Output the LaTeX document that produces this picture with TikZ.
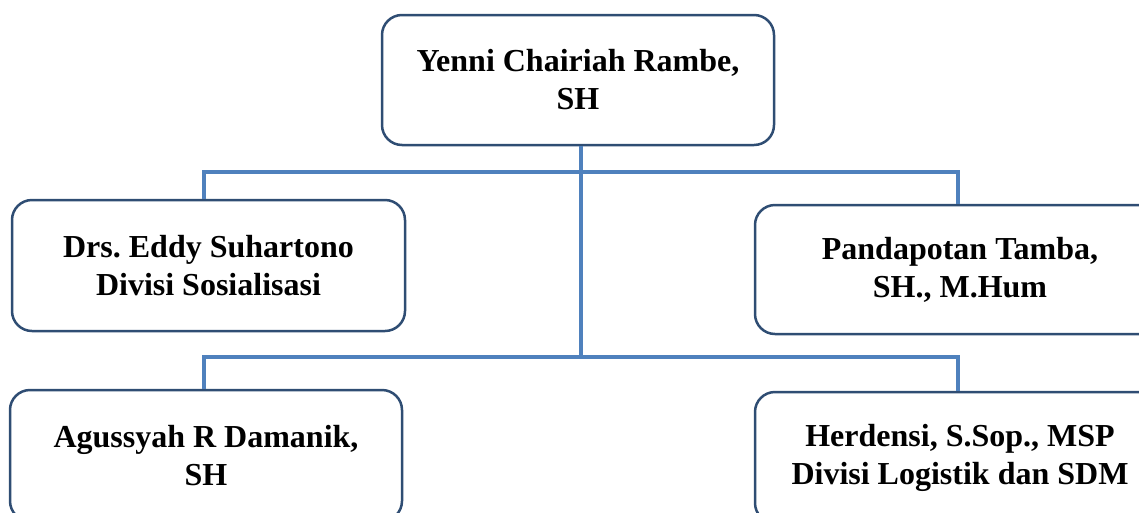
\documentclass[tikz,border=0pt]{standalone}
\usepackage{fontspec}
\setmainfont{Liberation Serif}
\frenchspacing
\definecolor{boxline}{RGB}{47,77,115}
\definecolor{conline}{RGB}{79,129,189}
\begin{document}
\begin{tikzpicture}[x=1pt,y=-1pt,
  orgbox/.style={draw=boxline, line width=2.5pt, rounded corners=20pt, fill=white,
    align=center, font=\fontsize{32}{38}\selectfont\bfseries\frenchspacing, inner sep=0pt},
  conn/.style={draw=conline, line width=3.2pt}]
\useasboundingbox (0,0) rectangle (1139,512);
\clip (0,0) rectangle (1139,512);
% junctions
\coordinate (j1) at (581,172);
\coordinate (j2) at (581,357);
\coordinate (l1) at (204,172);
\coordinate (r1) at (958,172);
\coordinate (l2) at (204,357);
\coordinate (r2) at (958,357);
% boxes
\node[orgbox, minimum width=392pt, minimum height=130pt] (top) at (578,80) {Yenni Chairiah Rambe,\\SH};
\node[orgbox, minimum width=393pt, minimum height=131pt] (b1) at (208.5,265.5) {Drs. Eddy Suhartono\\Divisi Sosialisasi};
\node[orgbox, minimum width=410pt, minimum height=129pt] (b2) at (960,269.5) {Pandapotan Tamba,\\SH., M.Hum};
\node[orgbox, minimum width=392pt, minimum height=131pt] (b3) at (206,455.5) {Agussyah R Damanik,\\SH};
\node[orgbox, minimum width=410pt, minimum height=131pt] (b4) at (960,457.5) {Herdensi, S.Sop., MSP\\Divisi Logistik dan SDM};
% connectors
\draw[conn] (top.south -| j1) -- (j2);
\draw[conn] (l1 |- b1.north) -- (l1) -- (r1) -- (r1 |- b2.north);
\draw[conn] (l2 |- b3.north) -- (l2) -- (r2) -- (r2 |- b4.north);
\end{tikzpicture}
\end{document}
